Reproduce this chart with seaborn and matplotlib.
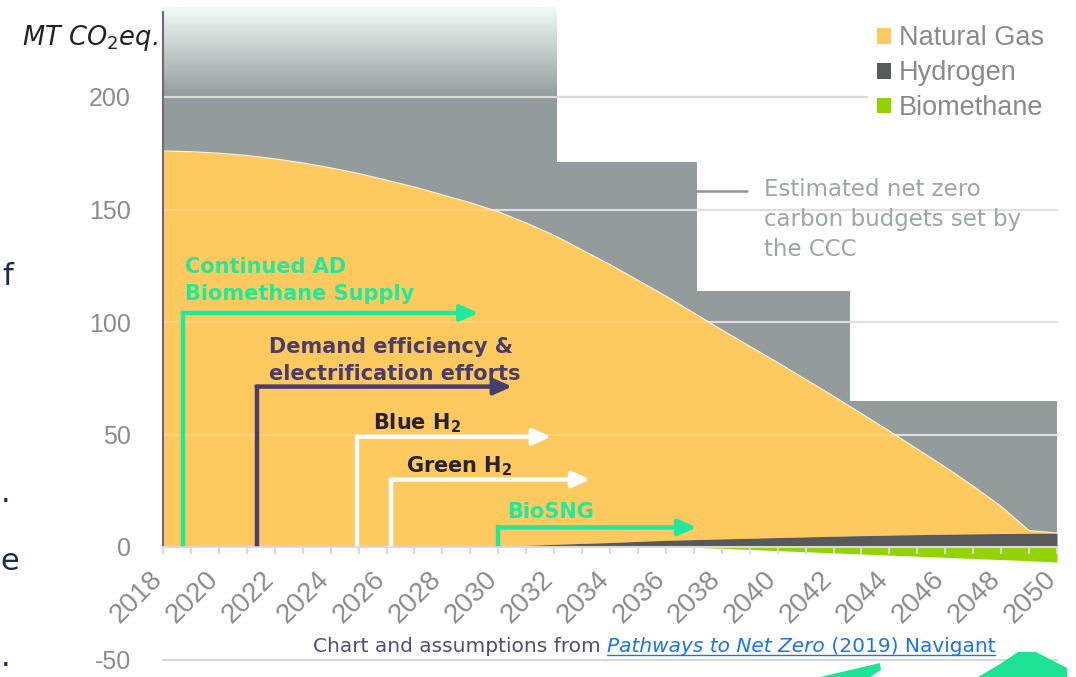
import numpy as np
import pandas as pd
import matplotlib
matplotlib.use("Agg")
import matplotlib.pyplot as plt
import seaborn as sns
from matplotlib.patches import Patch, Polygon
from matplotlib.lines import Line2D
from matplotlib.colors import to_rgb

# ---------------- data ----------------
years = list(range(2018, 2051))
natural_gas = [176, 175.7, 175, 174, 172.5, 170.7, 168.5, 166, 163, 160, 156.5, 153,
               148.7, 143.3, 137.3, 130.4, 123.5, 116, 108.5, 100.7, 92.9, 85.3, 77.8,
               70, 62.2, 54.2, 46.2, 38, 29.8, 21.2, 12.0, 1.2, 0.0]
hydrogen = [0, 0, 0, 0, 0, 0, 0, 0, 0, 0, 0, 0,
            0.3, 0.7, 1.2, 1.6, 2.0, 2.5, 3.0, 3.3, 3.6, 3.9, 4.2,
            4.5, 4.8, 5.05, 5.3, 5.5, 5.7, 5.85, 6.0, 6.1, 6.2]
biomethane = [0, 0, 0, 0, 0, 0, 0, 0, 0, 0, 0, 0,
              0, 0, 0, 0, 0, 0, 0, -0.1, -0.6, -1.1, -1.6,
              -2.1, -2.6, -3.1, -3.6, -4.1, -4.6, -5.1, -5.6, -6.1, -6.7]

budget_edges = [2018, 2032.1, 2037.1, 2042.6, 2050]
budget_values = [240, 171, 114, 65]

series_names = ["Natural Gas", "Hydrogen", "Biomethane"]
y_ticks = [-50, 0, 50, 100, 150, 200]
x_ticks = list(range(2018, 2051, 2))

arrow_labels = ["Continued AD\nBiomethane Supply", "Demand efficiency &\nelectrification efforts",
                r"Blue H$_\mathbf{2}$", r"Green H$_\mathbf{2}$", "BioSNG"]
arrow_start = [2018.7, 2021.35, 2024.95, 2026.15, 2030.0]
arrow_level = [104, 71.3, 49, 30, 8.7]
arrow_end = [2029.3, 2030.5, 2031.9, 2033.3, 2037.1]
label_x = [2018.8, 2021.8, 2025.5, 2026.7, 2030.3]
label_base = [109.8, 74.3, 52.2, 33.1, 12.7]

budget_note = "Estimated net zero\ncarbon budgets set by\nthe CCC"

# ---------------- style ----------------
W, H = 1076, 677
sns.set_theme(style="white")
plt.rcParams['font.family'] = ['DejaVu Sans']
plt.rcParams['mathtext.fontset'] = 'dejavusans'

ORANGE = "#FEC95F"
GRAY = "#939B9C"
DARK = "#58595B"
GREEN = "#92D400"
MINT = "#1EE99C"
PURPLE = "#4B3D6B"
TXT_DARK = "#262233"
GRID = "#D9D9D9"
TICKTXT = "#8C8C8C"

fig = plt.figure(figsize=(W / 100, H / 100), dpi=100)
fig.patch.set_facecolor("white")
ax = fig.add_axes([163 / W, 1 - 659.5 / H, (1057 - 163) / W, (659.5 - 7) / H])
ax.set_facecolor("white")

df = pd.DataFrame({"year": years, "Natural Gas": natural_gas,
                   "Hydrogen": hydrogen, "Biomethane": biomethane})
df["top"] = df["Natural Gas"] + df["Hydrogen"]

# carbon budgets (step bars)
ax.stairs(budget_values, budget_edges, fill=True, baseline=0, color=GRAY, zorder=1)

# fade at the top of the first budget block
c_top = np.array(to_rgb("#F3FBF8"))
c_bot = np.array(to_rgb(GRAY))
t = np.linspace(0, 1, 200)[:, None]
grad = (c_top * (1 - t) + c_bot * t)[:, None, :]
ax.imshow(grad, extent=[budget_edges[0], budget_edges[1], 200, budget_values[0]],
          aspect="auto", zorder=1.1, interpolation="bilinear")
ax.set_xlim(2018, 2050)
ax.set_ylim(-50, 240)

# gridlines
for yv in [150, 100, 50, -50]:
    ax.axhline(yv, color=GRID, lw=1.6, zorder=1.2, clip_on=False)
ax.plot([2018, 2043.2], [200, 200], color=GRID, lw=1.6, zorder=1.2)

# stacked areas
ax.fill_between(df["year"], 0, df["Hydrogen"], color=DARK, lw=0, zorder=2)
ax.fill_between(df["year"], df["Hydrogen"], df["top"], color=ORANGE, lw=0, zorder=2)
ax.fill_between(df["year"], 0, df["Biomethane"], color=GREEN, lw=0, zorder=2)
sns.lineplot(data=df, x="year", y="top", ax=ax, color="#FFF1D0", lw=0.9, zorder=2.1)
for yv in [150, 100, 50]:
    ax.axhline(yv, color="white", lw=1.4, alpha=0.18, zorder=2.2)

# arrows
arrow_colors = [MINT, PURPLE, "white", "white", MINT]
text_colors = [MINT, PURPLE, TXT_DARK, TXT_DARK, MINT]
for lab, xs, lv, xe, lx, lb, ac, tc in zip(arrow_labels, arrow_start, arrow_level,
                                            arrow_end, label_x, label_base,
                                            arrow_colors, text_colors):
    ax.plot([xs, xs], [1.5, lv], color=ac, lw=3.2, solid_capstyle="projecting", zorder=3)
    ax.annotate("", xy=(xe, lv), xytext=(xs, lv),
                arrowprops=dict(arrowstyle="-|>,head_length=0.9,head_width=0.4",
                                color=ac, lw=3.2, shrinkA=0, shrinkB=0), zorder=3)
    ax.text(lx, lb, lab, color=tc, fontsize=15, fontweight="bold", ha="left",
            va="baseline", linespacing=1.45, zorder=4)

# budget note
ax.plot([2037.1, 2038.9], [158.3, 158.3], color="#8E9596", lw=1.8, zorder=3)
ax.text(2039.5, 164.0, budget_note, color="#9EA5A6", fontsize=16.5, ha="left",
        va="top", linespacing=1.4, zorder=4)

# axes styling
for s in ["top", "right"]:
    ax.spines[s].set_visible(False)
ax.spines["bottom"].set_position(("data", 0))
ax.spines["bottom"].set_color(GRID)
ax.spines["bottom"].set_linewidth(1.5)
ax.spines["left"].set_color("#6F6682")
ax.spines["left"].set_linewidth(1.5)
ax.spines["left"].set_bounds(0, 238)
ax.set_axisbelow(False)

ax.set_xticks(x_ticks)
ax.set_xticks(list(range(2018, 2051)), minor=True)
ax.set_xticklabels([str(v) for v in x_ticks], rotation=45, ha="right", va="baseline",
                   rotation_mode="anchor", fontsize=20, color=TICKTXT,
                   fontfamily="Liberation Sans")
ax.tick_params(axis="x", which="both", bottom=True, length=5, width=1.5,
               color=GRID, direction="out", pad=19)
ax.set_yticks(y_ticks)
ax.set_yticklabels([str(v) for v in y_ticks], fontsize=18, color=TICKTXT,
                   fontfamily="Liberation Sans")
ax.tick_params(axis="y", length=0, pad=23)
ax.set_xlabel("")
ax.set_ylabel("")
ax.grid(False)

# y-axis title
fig.text(158 / W, 1 - 38 / H, r"MT CO$_2$eq.", fontsize=18.5, style="italic",
         color="#222222", ha="right", va="center")

# legend
handles = [Patch(facecolor=c, edgecolor="none") for c in [ORANGE, DARK, GREEN]]
leg = fig.legend(handles, series_names, loc="upper left",
                 bbox_to_anchor=(868 / W, 1 - 16 / H), frameon=True,
                 facecolor="white", edgecolor="none", framealpha=1,
                 handlelength=0.5, handleheight=0.5,
                 handletextpad=0.3, labelspacing=0.33, borderpad=0.35,
                 borderaxespad=0, prop={"family": "Liberation Sans", "size": 19.5})
for txt in leg.get_texts():
    txt.set_color("#8A8A8A")

# stray slide characters at left edge
fig.text(2 / W, 1 - 285 / H, "f", fontsize=22, color="#1B2A47", va="baseline")
fig.text(1 / W, 1 - 494 / H, ".", fontsize=22, color="#1B2A47", va="center")
fig.text(0 / W, 1 - 570 / H, "e", fontsize=22, color="#1B2A47", va="baseline")
fig.text(1 / W, 1 - 658 / H, ".", fontsize=22, color="#1B2A47", va="center")

# decorative slide shapes bottom-right
for pts in ([(820, 677), (880, 663), (881, 670), (870, 677)],
            [(978, 677), (1000, 664), (1018, 652), (1036, 652), (1067, 668), (1067, 677)]):
    fig.add_artist(Polygon([(px / W, 1 - py / H) for px, py in pts], closed=True,
                           facecolor="#1EE396", edgecolor="none",
                           transform=fig.transFigure))

# caption with link styling
fig.canvas.draw()
renderer = fig.canvas.get_renderer()
x_px = 313
base_y = 1 - 652 / H
parts = [("Chart and assumptions from ", "#574A78", "normal", False),
         ("Pathways to Net Zero", "#1A73E8", "italic", True),
         (" (2019) Navigant", "#1A73E8", "normal", True)]
for txt, col, sty, und in parts:
    tt = fig.text(x_px / W, base_y, txt, color=col, style=sty, fontsize=14.5,
                  ha="left", va="baseline")
    bb = tt.get_window_extent(renderer)
    if und:
        fig.add_artist(Line2D([bb.x0 / W, bb.x1 / W], [base_y - 3 / H, base_y - 3 / H],
                              color=col, lw=1.0, transform=fig.transFigure))
    x_px = bb.x1

fig.savefig("out.png", dpi=100)
